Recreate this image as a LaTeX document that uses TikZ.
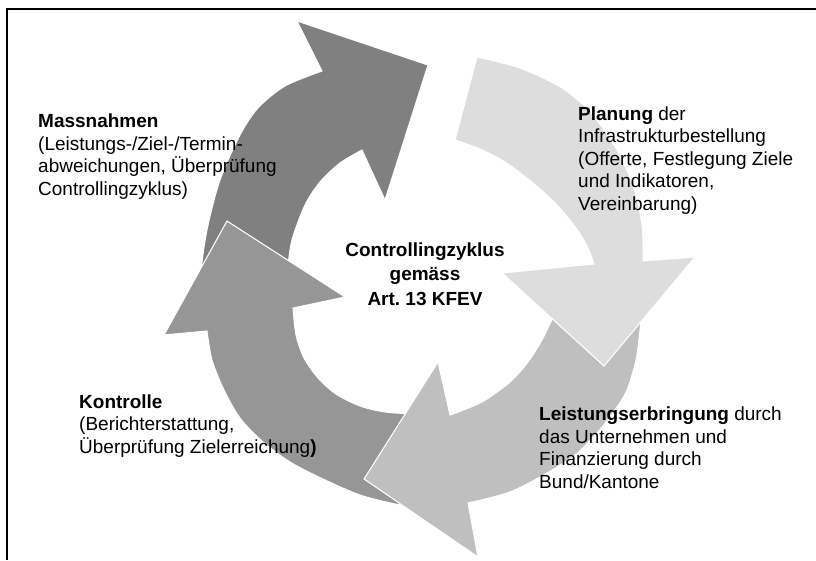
\documentclass[tikz,border=0pt]{standalone}
\usepackage{fontspec}
\setmainfont{Liberation Sans}
\definecolor{massgray}{gray}{0.50}
\definecolor{kontgray}{gray}{0.59}
\definecolor{leistgray}{gray}{0.75}
\definecolor{plangray}{gray}{0.865}

\begin{document}
\begin{tikzpicture}[x=0.03cm, y=-0.03cm,
    cyclearrow/.style={draw=white, line width=0.9pt, line join=miter},
    blocktext/.style={font=\fontsize{16.2}{19.1}\selectfont, align=left,
      inner sep=0pt, anchor=base west}]
  \useasboundingbox (0,0) rectangle (816,560);
  \draw[line width=2.1pt] (816,8.8) -- (7,8.8) -- (7,560);
  % Massnahmen
  \path[cyclearrow, fill=massgray] plot[smooth] coordinates {(290,300) (288,270)
      (292,240) (305,205) (320,182) (340,163) (362,150)}
    -- (385,200) -- (428,65) -- (297,21)
    -- plot[smooth] coordinates {(322,71) (285,86) (258,108) (240,135) (220,180)
      (207,230) (201,275) (203,320)} -- cycle;
  % Kontrolle
  \path[cyclearrow, fill=kontgray] plot[smooth] coordinates {(415,414) (385,412)
      (360,406) (336,394) (318,378) (304,358) (296,335) (293,308)}
    -- (345,297) -- (227,221) -- (164,335)
    -- plot[smooth] coordinates {(207,331) (212,360) (224,390) (240,418) (262,441)
      (290,462) (323,479) (360,495) (395,504) (412,506)} -- cycle;
  % Leistungserbringung
  \path[cyclearrow, fill=leistgray] plot[smooth] coordinates {(565,305) (553,318)
      (542,340) (528,362) (510,382) (482,402) (450,415)}
    -- (438,362) -- (364,479) -- (478,557)
    -- plot[smooth] coordinates {(468,503) (510,492) (547,473) (575,455) (597,433)
      (615,410) (627,390) (636,360) (640,330) (642,310)} -- cycle;
  % Planung
  \path[cyclearrow, fill=plangray] plot[smooth] coordinates {(455,140) (480,149)
      (505,162) (533,183) (557,205) (576,228) (588,248) (594,264)}
    -- (502,273) -- (604,366) -- (695,257)
    -- plot[smooth] coordinates {(643,261) (642,225) (633,185) (614,145) (590,112)
      (562,88) (520,68) (477,57)} -- cycle;

  % texts (anchored at the baseline of their last line)
  \node[blocktext] (massnahmen) at (38,195) {\textbf{Massnahmen}\\
    (Leistungs-/Ziel-/Termin-\\abweichungen, Überprüfung\\Controllingzyklus)};
  \node[blocktext] (planung) at (578,210) {\textbf{Planung} der\\
    Infrastrukturbestellung\\(Offerte, Festlegung Ziele\\und Indikatoren,\\Vereinbarung)};
  \node[blocktext] (kontrolle) at (79,453) {\textbf{Kontrolle}\\
    (Berichterstattung,\\Überprüfung Zielerreichung\textbf{)}};
  \node[blocktext] (leistung) at (539,488) {\textbf{Leistungserbringung} durch\\
    das Unternehmen und\\Finanzierung durch\\Bund/Kantone};
  \node[blocktext, align=center, anchor=base, font=\fontsize{16.2}{20.8}\selectfont\bfseries]
    (zyklus) at (425,305) {Controllingzyklus\\gemäss\\Art.\ 13 KFEV};
\end{tikzpicture}
\end{document}
